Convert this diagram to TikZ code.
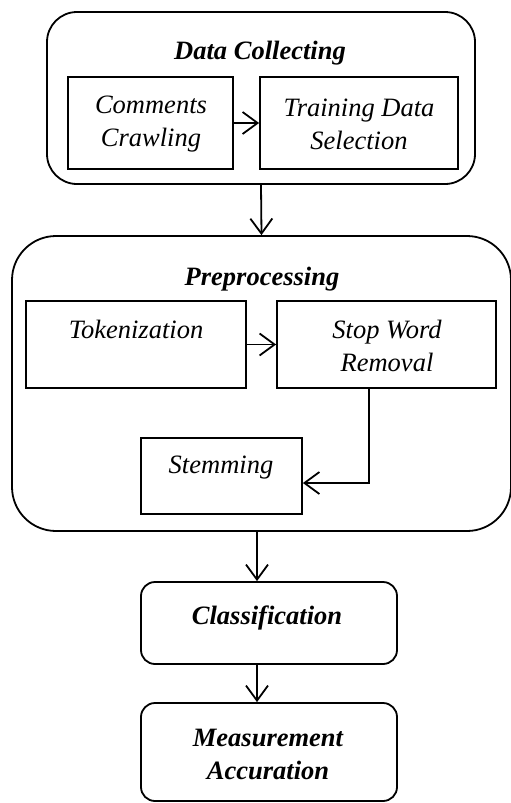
\documentclass[tikz,border=0pt]{standalone}
\usepackage{fontspec}
\setmainfont{Liberation Serif}
\usetikzlibrary{arrows.meta}
\begin{document}
\begin{tikzpicture}[x=1pt,y=-1pt,
  box/.style={draw,line width=1.8pt,inner sep=0pt,minimum width=#1},
  outer/.style={box=#1,rounded corners=30pt},
  txt/.style={font=\fontsize{26.5}{33}\selectfont\itshape,align=center,inner sep=0pt},
  ttl/.style={font=\fontsize{26.5}{33}\selectfont\bfseries\itshape,align=center,inner sep=0pt},
  arr/.style={line width=1.8pt,-{Straight Barb[length=15pt,width=22pt,line width=1.8pt]}}]
\useasboundingbox (0,0) rectangle (511,803);
% Data Collecting
\node[outer=428pt,minimum height=172pt] (dc) at (261,98) {};
\node[ttl] (dct) at (260,53) {Data Collecting};
\node[box=165pt,minimum height=92pt] (cc) at (150.5,123) {};
\node[txt] (cct) at (151,124) {Comments\\Crawling};
\node[box=198pt,minimum height=92pt] (tds) at (359,123) {};
\node[txt] (tdst) at (359,124) {Training Data\\Selection};
\draw[arr] (cc.east) -- (tds.west);
% Preprocessing
\node[box=499pt,minimum height=295pt,rounded corners=44pt] (pre) at (261.5,383.5) {};
\node[ttl] (pret) at (262,279) {Preprocessing};
\node[box=220pt,minimum height=87pt] (tok) at (136,344.5) {};
\node[txt] (tokt) at (136,329) {Tokenization};
\node[box=219pt,minimum height=87pt] (swr) at (386.5,344.5) {};
\node[txt] (swrt) at (387,346) {Stop Word\\Removal};
\node[box=161pt,minimum height=76pt] (stem) at (221.5,476) {};
\node[txt] (stemt) at (221,468) {Stemming};
\draw[arr] (dc.south) -- (pre.north);
\draw[arr] (tok.east) -- (swr.west);
\coordinate (bend) at (369,483);
\draw[arr] (swr.south -| bend) -- (bend) -- (stem.east |- bend);
% Classification
\node[box=256pt,minimum height=82pt,rounded corners=14pt] (cls) at (269,623) {};
\node[ttl] (clst) at (267,618) {Classification};
\node[box=256pt,minimum height=98pt,rounded corners=14pt] (ma) at (269,752) {};
\node[ttl] (mat) at (268,754) {Measurement\\Accuration};
\coordinate (ax) at (257,0);
\draw[arr] (pre.south -| ax) -- (cls.north -| ax);
\draw[arr] (cls.south -| ax) -- (ma.north -| ax);
\end{tikzpicture}
\end{document}
